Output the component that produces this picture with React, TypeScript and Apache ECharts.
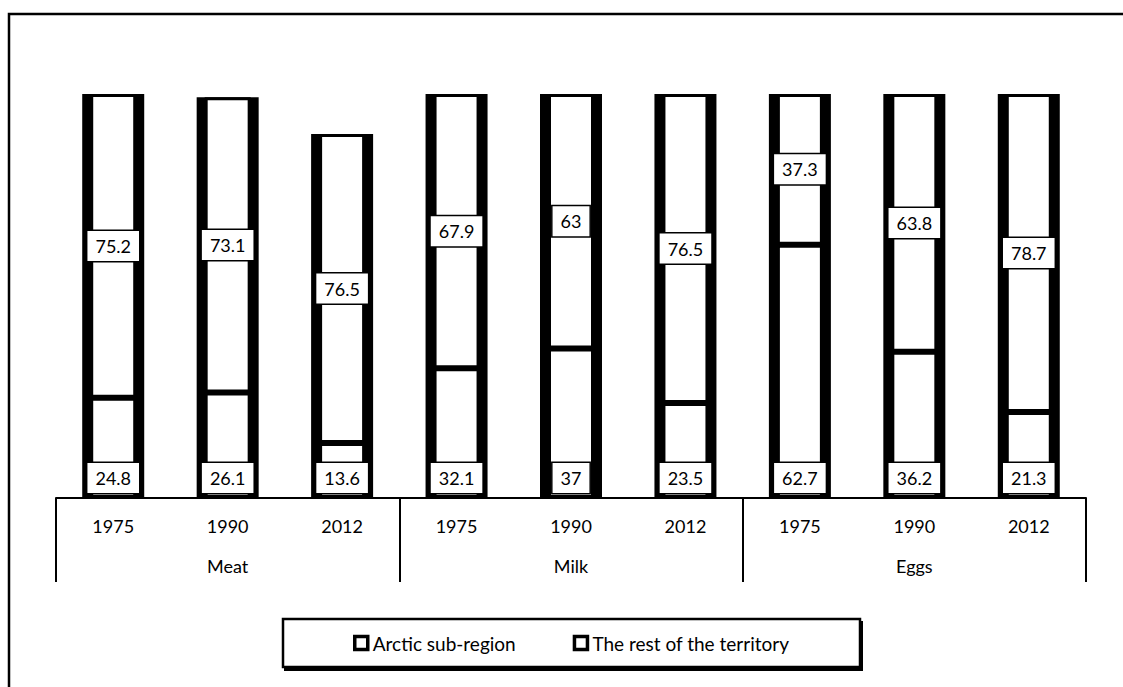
import React, { useEffect, useRef } from "react";
import * as echarts from "echarts";

const years = ["1975", "1990", "2012", "1975", "1990", "2012", "1975", "1990", "2012"];
const groups = ["Meat", "Milk", "Eggs"];
const arctic = [24.8, 26.1, 13.6, 32.1, 37, 23.5, 62.7, 36.2, 21.3];
const rest = [75.2, 73.1, 76.5, 67.9, 63, 76.5, 37.3, 63.8, 78.7];
const seriesNames = ["Arctic sub-region", "The rest of the territory"];

const FONT = "Lato";

export default function App() {
  const ref = useRef<HTMLDivElement>(null);
  useEffect(() => {
    if (!ref.current) return;
    const chart = echarts.init(ref.current, undefined, { renderer: "svg" });
    const totals = arctic.map((v, i) => +(v + rest[i]).toFixed(1));
    const labelBox = {
      show: true,
      color: "#000",
      fontFamily: FONT,
      fontSize: 18,
      backgroundColor: "#fff",
      borderColor: "#000",
      borderWidth: 1.5,
      padding: [6, 8, 6, 8],
    };
    const barStyle = { color: "#fff", borderColor: "#000", borderWidth: 3 };
    chart.setOption({
      animation: false,
      grid: { left: 56, right: 37, top: 94, bottom: 189, containLabel: false },
      xAxis: [
        {
          type: "category",
          data: years,
          position: "bottom",
          axisLine: { show: true, lineStyle: { color: "#000", width: 2 } },
          axisTick: { show: false },
          axisLabel: { color: "#000", fontFamily: FONT, fontSize: 18, margin: 19 },
          z: 5,
        },
        {
          type: "category",
          data: groups,
          position: "bottom",
          offset: 0,
          axisLine: { show: false },
          axisTick: { show: true, length: 84, lineStyle: { color: "#000", width: 2 } },
          axisLabel: { color: "#000", fontFamily: FONT, fontSize: 18, margin: 59 },
        },
        {
          type: "category",
          data: years.map((y, i) => y + "_" + i),
          position: "bottom",
          show: false,
        },
      ],
      yAxis: { type: "value", min: 0, max: 100, show: false, splitLine: { show: false } },
      legend: {
        left: 353,
        top: 633,
        padding: 0,
        itemGap: 57,
        itemWidth: 13,
        itemHeight: 13,
        icon: "rect",
        data: seriesNames,
        itemStyle: { color: "#fff", borderColor: "#000", borderWidth: 3.5 },
        textStyle: { color: "#000", fontFamily: FONT, fontSize: 19, lineHeight: 20 },
      },
      graphic: [
        {
          type: "rect",
          shape: { x: 9, y: 14, width: 1300, height: 900 },
          style: { fill: "none", stroke: "#000", lineWidth: 2.5 },
          silent: true,
        },
        {
          type: "rect",
          shape: { x: 285, y: 622, width: 577, height: 48 },
          style: { fill: "#000", stroke: "#000", lineWidth: 2 },
          silent: true,
          z: -1,
        },
        {
          type: "rect",
          shape: { x: 283, y: 619, width: 577, height: 48 },
          style: { fill: "#fff", stroke: "#000", lineWidth: 2.5 },
          silent: true,
          z: 0,
        },
      ],
      series: [
        {
          name: "frame",
          type: "bar",
          xAxisIndex: 2,
          barWidth: 62,
          data: totals,
          itemStyle: { color: "#000" },
          z: 1,
          silent: true,
        },
        {
          name: seriesNames[0],
          type: "bar",
          stack: "total",
          barWidth: 46,
          data: arctic,
          itemStyle: barStyle,
          label: { ...labelBox, position: "insideBottom", distance: 5 },
          z: 2,
        },
        {
          name: seriesNames[1],
          type: "bar",
          stack: "total",
          barWidth: 46,
          data: rest,
          itemStyle: barStyle,
          label: { ...labelBox, position: "inside" },
          z: 2,
        },
      ],
    });
    return () => chart.dispose();
  }, []);
  return (
    <div
      ref={ref}
      style={{ position: "absolute", left: 0, top: 0, width: 1123, height: 687, background: "#fff" }}
    />
  );
}
